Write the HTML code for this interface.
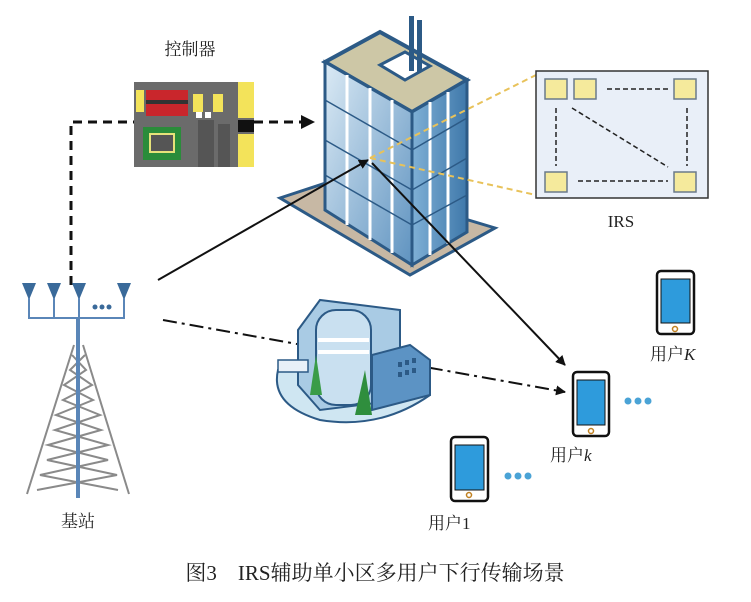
<!DOCTYPE html>
<html><head><meta charset="utf-8"><style>
body{margin:0;background:#fff}
svg{display:block}
text{font-family:"Liberation Serif","Noto Serif CJK SC",serif;fill:#222}
</style></head><body>
<svg width="751" height="602" viewBox="0 0 751 602" xmlns="http://www.w3.org/2000/svg">
<defs>
<marker id="ah" markerWidth="10" markerHeight="10" refX="9" refY="5" orient="auto" markerUnits="userSpaceOnUse"><path d="M0,0 L10,5 L0,10 Z" fill="#111"/></marker>
<marker id="ah2" markerWidth="14" markerHeight="14" refX="13" refY="7" orient="auto" markerUnits="userSpaceOnUse"><path d="M0,0 L14,7 L0,14 Z" fill="#111"/></marker>
<linearGradient id="glass" x1="0" y1="0" x2="1" y2="1"><stop offset="0" stop-color="#dbeaf5"/><stop offset="1" stop-color="#5f93c0"/></linearGradient>
<linearGradient id="glass2" x1="0" y1="0" x2="1" y2="0"><stop offset="0" stop-color="#7fb0d6"/><stop offset="1" stop-color="#3f78aa"/></linearGradient>
</defs>

<!-- controller -->
<text x="190" y="55" font-size="17" text-anchor="middle">控制器</text>
<rect x="134" y="82" width="120" height="85" fill="#6b6b6b"/>
<rect x="146" y="90" width="42" height="26" fill="#c9262c"/>
<rect x="146" y="100" width="42" height="4" fill="#333"/>
<rect x="136" y="90" width="8" height="22" fill="#f3e35a"/>
<rect x="193" y="94" width="10" height="18" fill="#f3e35a"/>
<rect x="213" y="94" width="10" height="18" fill="#f3e35a"/>
<rect x="238" y="82" width="16" height="36" fill="#f3e35a"/>
<rect x="238" y="120" width="16" height="12" fill="#111"/>
<rect x="238" y="134" width="16" height="33" fill="#f3e35a"/>
<rect x="143" y="127" width="38" height="33" fill="#2a8c3a"/>
<rect x="150" y="134" width="24" height="18" fill="#555" stroke="#e6e27a" stroke-width="2"/>
<rect x="198" y="120" width="16" height="47" fill="#555"/>
<rect x="218" y="124" width="12" height="43" fill="#555"/>
<rect x="196" y="112" width="6" height="6" fill="#fff"/><rect x="205" y="112" width="6" height="6" fill="#fff"/>

<!-- dashed control line -->
<polyline points="71,285 71,122 134,122" fill="none" stroke="#111" stroke-width="3" stroke-dasharray="9,6"/>
<line x1="254" y1="122" x2="314" y2="122" stroke="#111" stroke-width="3" stroke-dasharray="9,6" marker-end="url(#ah2)"/>

<!-- tall building -->
<polygon points="280,198 335,180 495,228 410,275" fill="#c7b8a4" stroke="#2c5a86" stroke-width="3"/>
<polygon points="325,62 380,32 467,80 412,112" fill="#cdc7a6" stroke="#2c5a86" stroke-width="4"/>
<polygon points="325,62 412,112 412,265 325,210" fill="url(#glass)" stroke="#2c5a86" stroke-width="3"/>
<polygon points="412,112 467,80 467,232 412,265" fill="url(#glass2)" stroke="#2c5a86" stroke-width="3"/>
<g stroke="#fff" stroke-width="3">
<line x1="347" y1="75" x2="347" y2="225"/><line x1="370" y1="88" x2="370" y2="240"/><line x1="392" y1="100" x2="392" y2="253"/>
<line x1="430" y1="102" x2="430" y2="255"/><line x1="448" y1="92" x2="448" y2="244"/>
</g>
<g stroke="#2c5a86" stroke-width="1.5">
<line x1="325" y1="100" x2="412" y2="150"/><line x1="325" y1="140" x2="412" y2="190"/><line x1="325" y1="175" x2="412" y2="225"/>
<line x1="412" y1="150" x2="467" y2="118"/><line x1="412" y1="190" x2="467" y2="158"/><line x1="412" y1="225" x2="467" y2="195"/>
</g>
<polygon points="380,65 405,52 430,66 405,80" fill="#fff" stroke="#2c5a86" stroke-width="3"/>
<rect x="409" y="16" width="5" height="55" fill="#2c5a86"/><rect x="417" y="20" width="5" height="52" fill="#2c5a86"/>

<!-- IRS -->
<line x1="370" y1="158" x2="536" y2="75" stroke="#e8c25a" stroke-width="2" stroke-dasharray="6,4"/>
<line x1="370" y1="158" x2="536" y2="195" stroke="#e8c25a" stroke-width="2" stroke-dasharray="6,4"/>
<rect x="536" y="71" width="172" height="127" fill="#e9eff8" stroke="#333" stroke-width="1.5"/>
<g fill="#f5ea9c" stroke="#6a7a8a" stroke-width="1.5">
<rect x="545" y="79" width="22" height="20"/><rect x="574" y="79" width="22" height="20"/><rect x="674" y="79" width="22" height="20"/>
<rect x="545" y="172" width="22" height="20"/><rect x="674" y="172" width="22" height="20"/>
</g>
<g stroke="#222" stroke-width="1.5" stroke-dasharray="5,3" fill="none">
<line x1="607" y1="89" x2="668" y2="89"/><line x1="578" y1="181" x2="668" y2="181"/>
<line x1="556" y1="108" x2="556" y2="166"/><line x1="687" y1="108" x2="687" y2="166"/>
<line x1="572" y1="108" x2="668" y2="167"/>
</g>
<text x="621" y="227" font-size="17" text-anchor="middle">IRS</text>

<!-- signal lines -->
<line x1="158" y1="280" x2="368" y2="160" stroke="#111" stroke-width="2" marker-end="url(#ah)"/>
<line x1="372" y1="163" x2="565" y2="365" stroke="#111" stroke-width="2" marker-end="url(#ah)"/>
<line x1="163" y1="320" x2="565" y2="392" stroke="#111" stroke-width="2" stroke-dasharray="14,5,3,5" marker-end="url(#ah)"/>

<!-- small building -->
<path d="M278,370 Q270,405 320,420 Q380,430 430,395 L430,370 Z" fill="#cfe6f2" stroke="#2c5a86" stroke-width="2"/>
<polygon points="298,330 320,300 400,310 400,400 320,410 298,385" fill="#a9cbe4" stroke="#2c5a86" stroke-width="2"/>
<rect x="316" y="310" width="55" height="95" rx="20" fill="#c9e0f0" stroke="#2c5a86" stroke-width="2"/>
<line x1="318" y1="340" x2="369" y2="340" stroke="#fff" stroke-width="4"/><line x1="318" y1="352" x2="369" y2="352" stroke="#fff" stroke-width="4"/>
<polygon points="372,355 410,345 430,360 430,395 372,410" fill="#5c93c4" stroke="#2c5a86" stroke-width="2"/>
<g fill="#2c5a86"><rect x="398" y="362" width="4" height="5"/><rect x="405" y="360" width="4" height="5"/><rect x="412" y="358" width="4" height="5"/><rect x="398" y="372" width="4" height="5"/><rect x="405" y="370" width="4" height="5"/><rect x="412" y="368" width="4" height="5"/></g>
<polygon points="355,415 365,370 372,415" fill="#2f8e3d"/><polygon points="310,395 316,355 322,395" fill="#3a9c48"/>
<rect x="278" y="360" width="30" height="12" fill="#e8f0f8" stroke="#2c5a86" stroke-width="1.5"/>

<!-- base station -->
<g fill="#3a6a9a">
<polygon points="22,283 36,283 29,300"/><polygon points="47,283 61,283 54,300"/><polygon points="72,283 86,283 79,300"/><polygon points="117,283 131,283 124,300"/>
</g>
<polyline points="29,298 29,318 124,318 124,298" fill="none" stroke="#5a86b8" stroke-width="2"/>
<line x1="54" y1="298" x2="54" y2="318" stroke="#5a86b8" stroke-width="2"/><line x1="79" y1="298" x2="79" y2="318" stroke="#5a86b8" stroke-width="2"/>
<circle cx="95" cy="307" r="2.5" fill="#3a6a9a"/><circle cx="102" cy="307" r="2.5" fill="#3a6a9a"/><circle cx="109" cy="307" r="2.5" fill="#3a6a9a"/>
<g stroke="#8a8a8a" stroke-width="2" fill="none">
<line x1="74" y1="345" x2="27" y2="494"/><line x1="83" y1="345" x2="129" y2="494"/>
<path d="M72,355 L86,370 L64,385 L93,400 L56,415 L101,430 L48,445 L108,460 L40,475 L118,490"/>
<path d="M85,355 L70,370 L92,385 L63,400 L100,415 L55,430 L108,445 L47,460 L117,475 L37,490"/>
</g>
<line x1="78" y1="318" x2="78" y2="498" stroke="#5a86b8" stroke-width="4"/>
<text x="78" y="527" font-size="17" text-anchor="middle">基站</text>

<!-- phones -->
<g stroke="#111" stroke-width="2.5">
<rect x="657" y="271" width="37" height="63" rx="4" fill="#fff"/><rect x="661" y="279" width="29" height="44" fill="#2e9bdc" stroke-width="1"/>
<rect x="573" y="372" width="36" height="64" rx="4" fill="#fff"/><rect x="577" y="380" width="28" height="45" fill="#2e9bdc" stroke-width="1"/>
<rect x="451" y="437" width="37" height="64" rx="4" fill="#fff"/><rect x="455" y="445" width="29" height="45" fill="#2e9bdc" stroke-width="1"/>
</g>
<circle cx="675" cy="329" r="2.5" fill="none" stroke="#c08020" stroke-width="1.5"/>
<circle cx="591" cy="431" r="2.5" fill="none" stroke="#c08020" stroke-width="1.5"/>
<circle cx="469" cy="495" r="2.5" fill="none" stroke="#c08020" stroke-width="1.5"/>
<g fill="#4aa3d6"><circle cx="628" cy="401" r="3.5"/><circle cx="638" cy="401" r="3.5"/><circle cx="648" cy="401" r="3.5"/>
<circle cx="508" cy="476" r="3.5"/><circle cx="518" cy="476" r="3.5"/><circle cx="528" cy="476" r="3.5"/></g>
<text x="650" y="360" font-size="17">用户<tspan font-style="italic">K</tspan></text>
<text x="550" y="461" font-size="17">用户<tspan font-style="italic">k</tspan></text>
<text x="428" y="529" font-size="17">用户1</text>

<text x="375" y="580" font-size="21" text-anchor="middle">图3　IRS辅助单小区多用户下行传输场景</text>
</svg>
</body></html>
